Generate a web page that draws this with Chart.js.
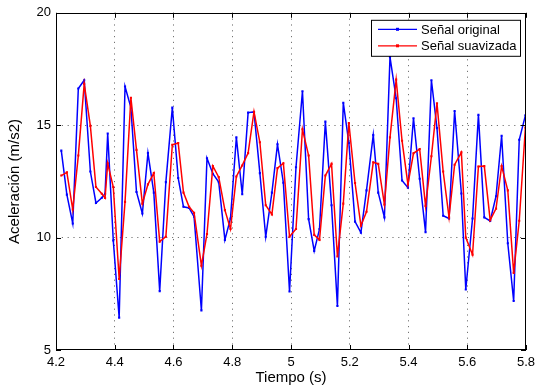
<!DOCTYPE html>
<html>
<head>
<meta charset="utf-8">
<script src="https://cdn.jsdelivr.net/npm/chart.js@4.4.0/dist/chart.umd.min.js"></script>
<style>
html, body { margin: 0; padding: 0; background: #fff; }
</style>
</head>
<body>
<canvas id="grafico" width="543" height="389"></canvas>
<script>
// tiempos de muestreo (s)
const tiempo = [4.218, 4.237, 4.257, 4.276, 4.296, 4.317, 4.336, 4.356, 4.367, 4.376,
  4.395, 4.415, 4.435, 4.455, 4.474, 4.494, 4.513, 4.533, 4.553, 4.574,
  4.596, 4.616, 4.634, 4.653, 4.670, 4.695, 4.714, 4.734, 4.754, 4.775,
  4.794, 4.814, 4.834, 4.854, 4.874, 4.894, 4.914, 4.935, 4.954, 4.974,
  4.995, 5.017, 5.039, 5.060, 5.079, 5.097, 5.117, 5.138, 5.158, 5.178,
  5.197, 5.218, 5.238, 5.257, 5.280, 5.297, 5.318, 5.337, 5.358, 5.378,
  5.398, 5.417, 5.438, 5.458, 5.478, 5.497, 5.518, 5.538, 5.557, 5.580,
  5.595, 5.618, 5.638, 5.658, 5.678, 5.698, 5.717, 5.738, 5.758, 5.777, 5.798];

const senalOriginal = [13.87, 11.91, 10.63, 16.63, 17.0, 12.94, 11.54, 11.77, 11.95, 14.63,
  9.87, 6.44, 16.72, 15.78, 12.03, 11.07, 13.76, 12.0, 7.62, 12.47,
  15.78, 12.65, 11.37, 11.32, 10.93, 6.76, 13.53, 12.84, 12.47, 9.9,
  10.85, 14.46, 11.93, 15.56, 15.59, 12.87, 10.04, 12.0, 14.15, 12.44,
  7.6, 13.13, 16.51, 10.82, 9.41, 10.38, 15.16, 11.44, 6.96, 16.0,
  14.21, 10.71, 10.22, 12.1, 14.56, 12.0, 10.9, 18.03, 16.2, 12.54,
  12.22, 15.31, 12.62, 10.24, 17.0, 14.87, 10.97, 10.85, 15.63, 11.96,
  7.69, 10.85, 15.46, 10.9, 10.74, 11.84, 14.53, 9.75, 7.18, 14.35, 15.44];

const senalSuavizada = [12.76, 12.90, 11.25, 13.65, 16.84, 14.97, 12.25, 11.95, 11.76, 13.3,
  12.25, 8.16, 11.59, 16.22, 13.9, 11.51, 12.37, 12.87, 9.82, 10.04,
  14.13, 14.21, 12.0, 11.37, 11.1, 8.75, 10.16, 13.18, 12.69, 11.22,
  10.38, 12.72, 13.21, 13.76, 15.6, 14.24, 11.44, 11.03, 13.09, 13.31,
  10.04, 10.38, 14.82, 13.65, 10.12, 9.9, 12.76, 13.28, 9.16, 11.51,
  15.09, 12.43, 10.53, 11.15, 13.35, 13.28, 11.47, 14.46, 17.03, 14.31,
  12.37, 13.75, 13.94, 11.41, 13.62, 15.97, 12.94, 10.9, 13.24, 13.79,
  10.0, 9.24, 13.16, 13.18, 10.78, 11.29, 13.18, 12.1, 8.43, 10.75, 14.9];

const ticksX = [4.2, 4.4, 4.6, 4.8, 5, 5.2, 5.4, 5.6, 5.8];
const ticksY = [5, 10, 15, 20];
const etiquetas = ["Señal original", "Señal suavizada"];

const FUENTE = "'Liberation Sans', Arial, Helvetica, sans-serif";
Chart.defaults.font.family = FUENTE;
Chart.defaults.color = '#000';

var puntos = function(valores) {
  return tiempo.map((t, i) => ({x: t, y: valores[i]}));
};

// marco, ticks hacia dentro y leyenda estilo matlab
const estiloMatlab = {
  id: 'estiloMatlab',
  afterDatasetsDraw(chart) {
    const ctx = chart.ctx;
    const a = chart.chartArea;
    const xs = chart.scales.x;
    const ys = chart.scales.y;
    ctx.save();
    ctx.strokeStyle = '#000';
    ctx.lineWidth = 1;
    ctx.beginPath();
    ticksX.forEach(v => {
      const px = Math.round(xs.getPixelForValue(v)) + 0.5;
      ctx.moveTo(px, a.bottom); ctx.lineTo(px, a.bottom - 5);
      ctx.moveTo(px, a.top); ctx.lineTo(px, a.top + 5);
    });
    ticksY.forEach(v => {
      const py = Math.round(ys.getPixelForValue(v)) + 0.5;
      ctx.moveTo(a.left, py); ctx.lineTo(a.left + 5, py);
      ctx.moveTo(a.right, py); ctx.lineTo(a.right - 5, py);
    });
    ctx.stroke();
    ctx.strokeRect(Math.round(a.left) + 0.5, Math.round(a.top) + 0.5,
      Math.round(a.right - a.left) - 1, Math.round(a.bottom - a.top) - 1);
    ctx.restore();
  },
  afterDraw(chart) {
    const ctx = chart.ctx;
    const a = chart.chartArea;
    const bx = a.right - 155, by = a.top + 7, bw = 149, bh = 36;
    ctx.save();
    ctx.fillStyle = '#fff';
    ctx.fillRect(bx, by, bw, bh);
    ctx.strokeStyle = '#000';
    ctx.lineWidth = 1;
    ctx.strokeRect(bx + 0.5, by + 0.5, bw, bh);
    ctx.font = '13px ' + FUENTE;
    ctx.textBaseline = 'middle';
    chart.data.datasets.forEach((ds, i) => {
      const ly = by + 9.5 + i * 16.5;
      ctx.strokeStyle = ds.borderColor;
      ctx.lineWidth = 1.2;
      ctx.beginPath();
      ctx.moveTo(bx + 7, ly); ctx.lineTo(bx + 46, ly);
      ctx.stroke();
      ctx.fillStyle = ds.borderColor;
      ctx.fillRect(bx + 25, ly - 1.5, 3, 3);
      ctx.fillStyle = '#000';
      ctx.fillText(etiquetas[i], bx + 50, ly + 1);
    });
    ctx.restore();
  }
};

new Chart(document.getElementById('grafico'), {
  type: 'line',
  data: {
    datasets: [{
      label: etiquetas[0],
      data: puntos(senalOriginal),
      borderColor: '#0000ff',
      backgroundColor: '#0000ff',
      borderWidth: 1.5,
      pointRadius: 1.5,
      pointStyle: 'rect',
      pointBorderWidth: 0,
      tension: 0,
      order: 1
    }, {
      label: etiquetas[1],
      data: puntos(senalSuavizada),
      borderColor: '#ff0000',
      backgroundColor: '#ff0000',
      borderWidth: 1.5,
      pointRadius: 1.5,
      pointStyle: 'rect',
      pointBorderWidth: 0,
      tension: 0,
      order: 0
    }]
  },
  options: {
    responsive: false,
    animation: false,
    devicePixelRatio: 1,
    layout: { padding: { top: 9, right: 17, left: 0, bottom: 0 } },
    plugins: { legend: { display: false }, tooltip: { enabled: false } },
    scales: {
      x: {
        type: 'linear',
        min: 4.2,
        max: 5.8,
        afterBuildTicks: s => { s.ticks = ticksX.map(v => ({value: v})); },
        afterFit: s => { s.height = 39; },
        ticks: { font: { size: 13 }, padding: 5, maxRotation: 0, callback: v => String(v) },
        grid: {
          drawTicks: false,
          color: ctx => (ctx.tick && (ctx.tick.value === 4.2 || ctx.tick.value === 5.8)) ? 'rgba(0,0,0,0)' : 'rgba(0,0,0,0.55)',
          lineWidth: 1
        },
        border: { display: false, dash: [1.2, 4.6] },
        title: { display: true, text: 'Tiempo (s)', font: { size: 15 }, padding: { top: 0, bottom: 2 } }
      },
      y: {
        min: 5,
        max: 20,
        afterBuildTicks: s => { s.ticks = ticksY.map(v => ({value: v})); },
        afterFit: s => { s.width = 56; },
        ticks: { font: { size: 13 }, padding: 5, callback: v => String(v) },
        grid: {
          drawTicks: false,
          color: ctx => (ctx.tick && (ctx.tick.value === 5 || ctx.tick.value === 20)) ? 'rgba(0,0,0,0)' : 'rgba(0,0,0,0.55)',
          lineWidth: 1
        },
        border: { display: false, dash: [1.2, 4.6] },
        title: { display: true, text: 'Aceleración (m/s2)', font: { size: 15 }, padding: { top: 6, bottom: 0 } }
      }
    }
  },
  plugins: [estiloMatlab]
});
</script>
</body>
</html>
